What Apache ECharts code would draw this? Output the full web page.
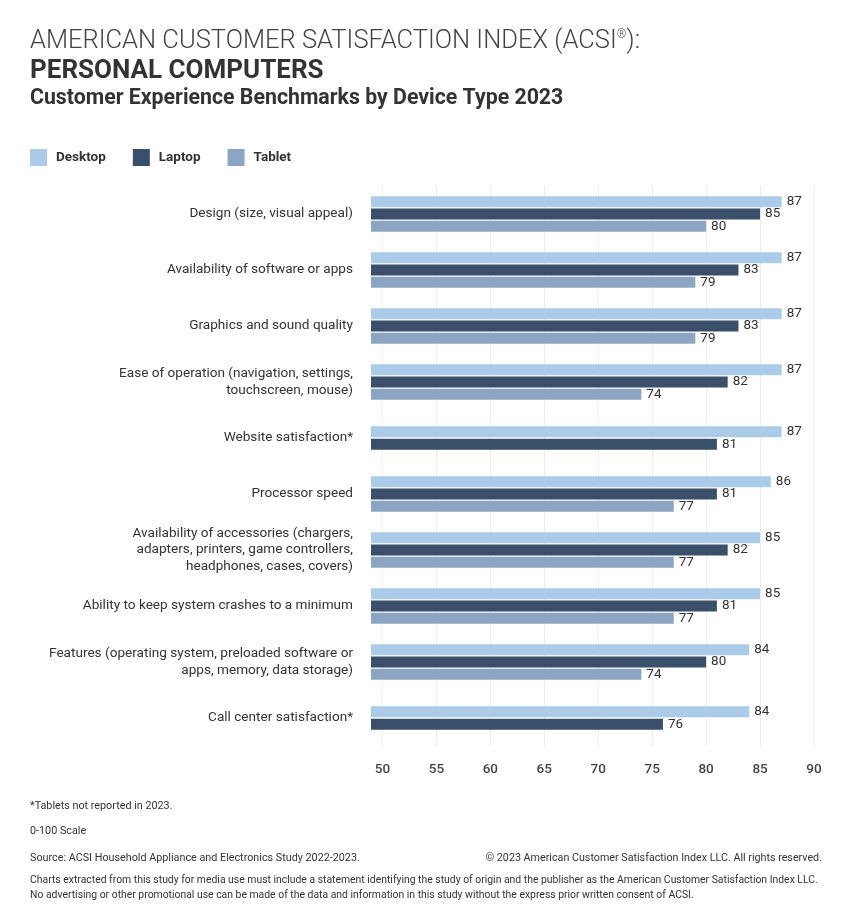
<!DOCTYPE html>
<html>
<head>
<meta charset="utf-8">
<script src="https://cdn.jsdelivr.net/npm/echarts@6/dist/echarts.min.js"></script>
<style>
html,body{margin:0;padding:0;background:#fff;}
#chart{width:847px;height:916px;}
</style>
</head>
<body>
<div id="chart"></div>
<script>
const categories = [
  'Design (size, visual appeal)',
  'Availability of software or apps',
  'Graphics and sound quality',
  'Ease of operation (navigation, settings,\ntouchscreen, mouse)',
  'Website satisfaction*',
  'Processor speed',
  'Availability of accessories (chargers,\nadapters, printers, game controllers,\nheadphones, cases, covers)',
  'Ability to keep system crashes to a minimum',
  'Features (operating system, preloaded software or\napps, memory, data storage)',
  'Call center satisfaction*'
];
const desktop = [87, 87, 87, 87, 87, 86, 85, 85, 84, 84];
const laptop  = [85, 83, 83, 82, 81, 81, 82, 81, 80, 76];
const tablet  = [80, 79, 79, 74, null, 77, 77, 77, 74, null];
const xTicks = [50, 55, 60, 65, 70, 75, 80, 85, 90];
const seriesNames = ['Desktop', 'Laptop', 'Tablet'];
const colors = ['#abcbe9', '#3a4f69', '#8ca5c3'];

// rows with all three devices vs rows with only two (tablet missing)
const hasTablet = tablet.map(v => v != null);
const desk3 = desktop.map((v, i) => hasTablet[i] ? v : null);
const lap3  = laptop.map((v, i) => hasTablet[i] ? v : null);
const desk2 = desktop.map((v, i) => hasTablet[i] ? null : v);
const lap2  = laptop.map((v, i) => hasTablet[i] ? null : v);

const chart = echarts.init(document.getElementById('chart'));
const BASE = 'Roboto, "Noto Sans", sans-serif';
const txt = '#333333';

function barSeries(name, data, color, yIdx) {
  return {
    name: name,
    type: 'bar',
    yAxisIndex: yIdx,
    data: data,
    barWidth: 11,
    barGap: '12%',
    itemStyle: { color: color },
    label: {
      show: true,
      position: 'right',
      distance: 5,
      color: txt,
      fontSize: 13.5,
      fontFamily: BASE
    },
    emphasis: { disabled: true },
    animation: false
  };
}

const option = {
  backgroundColor: '#ffffff',
  animation: false,
  legend: {
    data: seriesNames,
    left: 30,
    top: 149,
    padding: 0,
    itemWidth: 17,
    itemHeight: 17,
    itemGap: 27,
    icon: 'rect',
    selectedMode: false,
    textStyle: { color: txt, fontSize: 13.5, fontWeight: 'bold', fontFamily: BASE, padding: [0, 0, 0, 4] }
  },
  grid: { left: 371, right: 33, top: 186, height: 560, containLabel: false },
  xAxis: {
    type: 'value',
    min: 48.94,
    max: 90,
    axisLine: { show: false },
    axisTick: { show: false, customValues: xTicks },
    splitLine: { show: true, lineStyle: { color: '#ededed', width: 1 } },
    axisLabel: {
      customValues: xTicks,
      color: '#444',
      fontSize: 13.5,
      fontWeight: 500,
      fontFamily: BASE,
      margin: 17
    }
  },
  yAxis: [
    {
      type: 'category',
      data: categories,
      inverse: true,
      axisLine: { show: false },
      axisTick: { show: false },
      axisLabel: {
        color: txt,
        fontSize: 13.6,
        lineHeight: 16.6,
        fontFamily: BASE,
        margin: 18,
        align: 'right'
      }
    },
    {
      type: 'category',
      data: categories,
      inverse: true,
      show: false,
      gridIndex: 0
    }
  ],
  series: [
    barSeries('Desktop', desk3, colors[0], 0),
    barSeries('Laptop', lap3, colors[1], 0),
    barSeries('Tablet', tablet, colors[2], 0),
    barSeries('Desktop', desk2, colors[0], 1),
    barSeries('Laptop', lap2, colors[1], 1)
  ],
  graphic: [
    {
      type: 'text', x: 30, y: 29,
      style: {
        text: 'AMERICAN CUSTOMER SATISFACTION INDEX (ACSI{s|®}):',
        fill: '#444', fontSize: 25.5, fontWeight: 300, fontFamily: BASE,
        rich: { s: { fontSize: 12, fontWeight: 300, fill: '#444', fontFamily: BASE, verticalAlign: 'top', padding: [0, 0, 10, 0] } }
      }
    },
    {
      type: 'text', x: 30, y: 58,
      style: { text: 'PERSONAL COMPUTERS', fill: '#333', fontSize: 26, fontWeight: 'bold', fontFamily: BASE }
    },
    {
      type: 'text', x: 30, y: 88,
      style: { text: 'Customer Experience Benchmarks by Device Type 2023', fill: '#333', fontSize: 21.3, fontWeight: 'bold', fontFamily: BASE }
    },
    { type: 'text', x: 30, y: 801, scaleX: 0.98, style: { text: '*Tablets not reported in 2023.', fill: txt, fontSize: 11, fontFamily: BASE } },
    { type: 'text', x: 30, y: 826, scaleX: 0.98, style: { text: '0-100 Scale', fill: txt, fontSize: 11, fontFamily: BASE } },
    { type: 'text', x: 30, y: 853, scaleX: 0.98, style: { text: 'Source: ACSI Household Appliance and Electronics Study 2022-2023.', fill: txt, fontSize: 11, fontFamily: BASE } },
    { type: 'text', x: 822, y: 853, scaleX: 0.975, style: { text: '© 2023 American Customer Satisfaction Index LLC. All rights reserved.', align: 'right', fill: txt, fontSize: 11, fontFamily: BASE } },
    { type: 'text', x: 30, y: 873, scaleX: 0.945, style: { text: 'Charts extracted from this study for media use must include a statement identifying the study of origin and the publisher as the American Customer Satisfaction Index LLC.\nNo advertising or other promotional use can be made of the data and information in this study without the express prior written consent of ACSI.', fill: txt, fontSize: 11, lineHeight: 15, fontFamily: BASE } }
  ]
};
chart.setOption(option);
</script>
</body>
</html>
